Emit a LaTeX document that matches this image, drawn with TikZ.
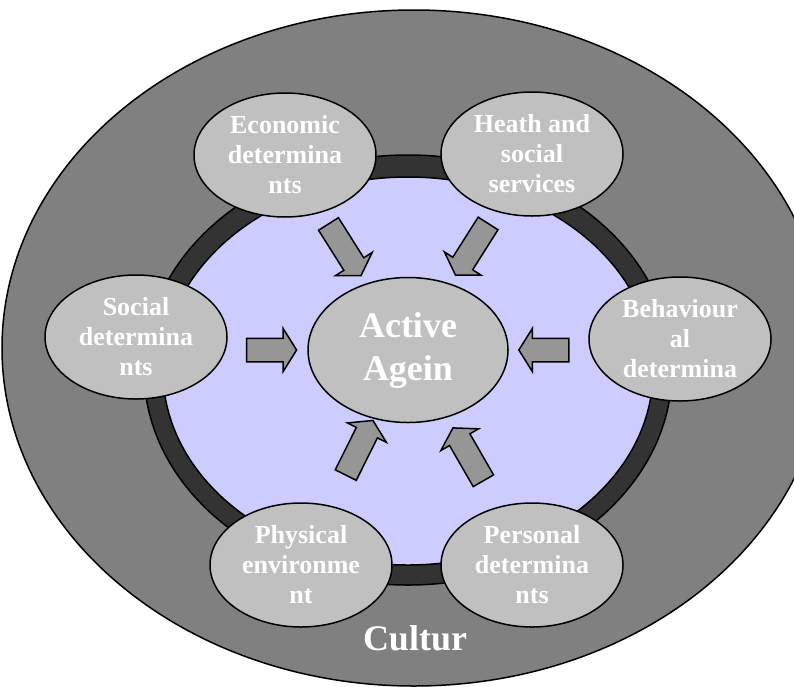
\documentclass[tikz,border=0pt]{standalone}
\usepackage{fontspec}
\setmainfont{Liberation Serif}
\usepackage{tikz}
\usetikzlibrary{shapes.geometric,shapes.arrows}

\definecolor{ringgray}{HTML}{808080}
\definecolor{darkring}{HTML}{333333}
\definecolor{innerblue}{HTML}{CCCCFF}
\definecolor{ellgray}{HTML}{C0C0C0}
\definecolor{arrgray}{HTML}{969696}

\tikzset{
	factor/.style={ellipse,draw,line width=1.5pt,fill=ellgray,minimum width=182pt,minimum height=124pt,
		inner sep=0pt,align=center,text=white,font=\bfseries\fontsize{26}{30}\selectfont},
	hub/.style={factor,minimum width=200pt,minimum height=145pt,font=\bfseries\fontsize{36}{43}\selectfont},
	push/.style={single arrow,draw,line width=1.5pt,fill=arrgray,inner xsep=0pt,inner ysep=11pt,
		single arrow head extend=10pt,single arrow tip angle=116,minimum height=61pt,sloped,allow upside down},
}

\begin{document}
\begin{tikzpicture}[x=1pt,y=-1pt]
			\clip (0,0) rectangle (794,686);
			% rings
			\draw[line width=1.5pt,fill=ringgray] (414,348) ellipse [x radius=412,y radius=338];
			\draw[line width=1.5pt,fill=darkring] (408,370) ellipse [x radius=264,y radius=215];
			\draw[line width=1.5pt,fill=innerblue] (408,371) ellipse [x radius=245,y radius=194];
			% determinants
			\node[factor] (econ) at (285,155) {Economic\\determina\\nts};
			\node[factor] (health) at (532,154) {Heath and\\social\\services};
			\node[factor] (soc) at (136,337) {Social\\determina\\nts};
			\node[factor] (behav) at (680,339) {Behaviour\\al\\determina};
			\node[factor] (phys) at (301,565) {Physical\\environme\\nt};
			\node[factor] (pers) at (532,565) {Personal\\determina\\nts};
			\node[hub] (hub) at (408,350) {Active\\Agein};
			% arrows into the hub
			\path (econ.center) -- node[push,pos=.47] (a1) {} (hub.center);
			\path (health.center) -- node[push,pos=.47] (a2) {} (hub.center);
			\path (soc |- hub) -- node[push,pos=.485,minimum height=50pt] (a3) {} (hub.center);
			\path (behav |- hub) -- node[push,pos=.487,minimum height=50pt] (a4) {} (hub.center);
			\path (phys.center) -- node[push,pos=.53] (a5) {} (hub.center);
			\path (pers.center) -- node[push,pos=.5] (a6) {} (hub.center);
			\node[anchor=base,text=white,font=\bfseries\fontsize{36}{43}\selectfont] (cult) at (415,650) {Cultur};
		\end{tikzpicture}
\end{document}
